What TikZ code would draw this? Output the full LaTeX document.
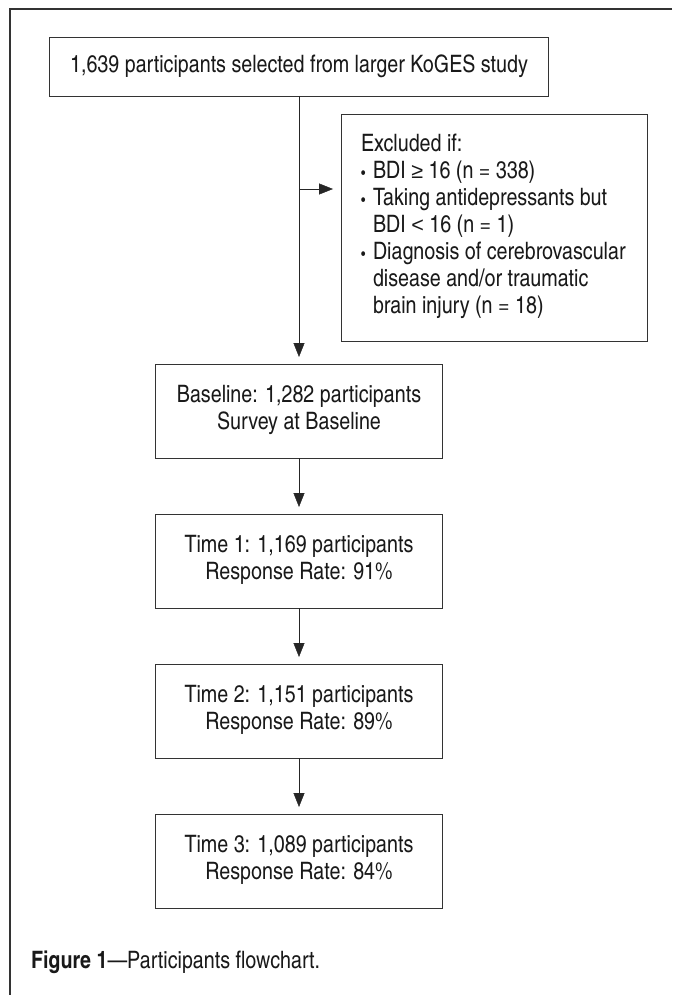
\documentclass[tikz,border=0pt]{standalone}
\usepackage{fontspec}
\setmainfont{texgyreheroscn}[Extension=.otf, UprightFont=*-regular, BoldFont=*-bold]
\newfontfamily\symfont{Liberation Sans}[Scale=0.9]
\usepackage{tikz}
\usetikzlibrary{positioning}
\usetikzlibrary{calc}
\usetikzlibrary{arrows.meta}
\newcommand{\bul}{\makebox[12pt][l]{\fontsize{15}{15}\selectfont\textbullet}}
\newcommand{\ind}{\hspace*{12pt}}
\tikzset{
	x = 1pt, y = 1pt,
	node distance = 56pt,
	line width = 0.9pt,
	every node/.style={outer sep=0pt, text=black!90, font=\fontsize{24}{27}\selectfont},
	box/.style = {rectangle, draw=black!80, minimum width=287pt, minimum height=94pt, inner sep=0pt},
	txt/.style = {inner sep=0pt, align=center},
	flow/.style = {draw=black!85, -{Triangle[length=14pt,width=11pt]}, shorten >=7pt},
	frame/.style = {draw=black!80, line width=1.1pt}
}

\begin{document}
\begin{tikzpicture}
	\useasboundingbox (0,0) rectangle (672,-995);
	% Frame
	\draw[frame] (672,-9) -- (10,-9) -- (10,-995);

	\node (top) [box, minimum width=499pt, minimum height=59pt] at (299,-66.5) {1,639 participants selected from larger KoGES study};
	\node (excl) [box, minimum width=306pt, minimum height=227pt] at (494,-227.5) {};
	\node (excl_txt) [txt, align=left, anchor=north west] at ($(excl.north west)+(20,-20)$) {Excluded if:\\
		\bul BDI {\symfont ≥} 16 (n = 338)\\
		\bul Taking antidepressants but\\
		\ind BDI {\symfont <} 16 (n = 1)\\
		\bul Diagnosis of cerebrovascular\\
		\ind disease and/or traumatic\\
		\ind brain injury (n = 18)};

	\node (base) [box] at (299,-411) {};
	\node (t1) [box, below = of base] {};
	\node (t2) [box, below = of t1] {};
	\node (t3) [box, below = of t2] {};

	\node (base_txt) [txt, below = 21pt of base.north] {Baseline: 1,282 participants\\Survey at Baseline};
	\node (t1_txt) [txt, below = 21pt of t1.north] {Time 1: 1,169 participants\\Response Rate: 91\%};
	\node (t2_txt) [txt, below = 21pt of t2.north] {Time 2: 1,151 participants\\Response Rate: 89\%};
	\node (t3_txt) [txt, below = 21pt of t3.north] {Time 3: 1,089 participants\\Response Rate: 84\%};

	\coordinate (br) at (299,-189);
	\draw[flow] (top) -- (base);
	\draw[flow, shorten >=8pt] (br) -- (br -| excl.west);
	\draw[flow] (base) -- (t1);
	\draw[flow] (t1) -- (t2);
	\draw[flow] (t2) -- (t3);

	% Caption
	\node (caption) [anchor=west, inner sep=0pt] at (31,-962) {\textbf{Figure 1}—Participants flowchart.};
\end{tikzpicture}
\end{document}
